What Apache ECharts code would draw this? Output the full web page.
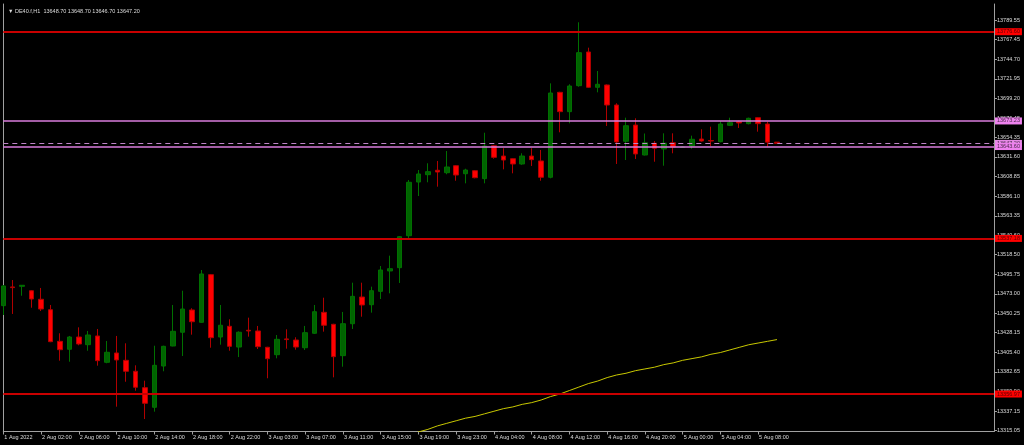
<!DOCTYPE html>
<html><head><meta charset="utf-8">
<script src="https://cdn.jsdelivr.net/npm/echarts@6/dist/echarts.min.js"></script>
<style>html,body{margin:0;padding:0;background:#000;}#c{width:1024px;height:445px;}</style>
</head><body><div id="c"></div>
<script>
const symbolName = 'DE40.f,H1';
const categories = [
 '1 Aug 2022','1 Aug 22:00','1 Aug 23:00','2 Aug 01:00','2 Aug 02:00','2 Aug 03:00','2 Aug 04:00','2 Aug 05:00',
 '2 Aug 06:00','2 Aug 07:00','2 Aug 08:00','2 Aug 09:00','2 Aug 10:00','2 Aug 11:00','2 Aug 12:00','2 Aug 13:00',
 '2 Aug 14:00','2 Aug 15:00','2 Aug 16:00','2 Aug 17:00','2 Aug 18:00','2 Aug 19:00','2 Aug 20:00','2 Aug 21:00',
 '2 Aug 22:00','2 Aug 23:00','3 Aug 01:00','3 Aug 02:00','3 Aug 03:00','3 Aug 04:00','3 Aug 05:00','3 Aug 06:00',
 '3 Aug 07:00','3 Aug 08:00','3 Aug 09:00','3 Aug 10:00','3 Aug 11:00','3 Aug 12:00','3 Aug 13:00','3 Aug 14:00',
 '3 Aug 15:00','3 Aug 16:00','3 Aug 17:00','3 Aug 18:00','3 Aug 19:00','3 Aug 20:00','3 Aug 21:00','3 Aug 22:00',
 '3 Aug 23:00','4 Aug 01:00','4 Aug 02:00','4 Aug 03:00','4 Aug 04:00','4 Aug 05:00','4 Aug 06:00','4 Aug 07:00',
 '4 Aug 08:00','4 Aug 09:00','4 Aug 10:00','4 Aug 11:00','4 Aug 12:00','4 Aug 13:00','4 Aug 14:00','4 Aug 15:00',
 '4 Aug 16:00','4 Aug 17:00','4 Aug 18:00','4 Aug 19:00','4 Aug 20:00','4 Aug 21:00','4 Aug 22:00','4 Aug 23:00',
 '5 Aug 00:00','5 Aug 01:00','5 Aug 02:00','5 Aug 03:00','5 Aug 04:00','5 Aug 05:00','5 Aug 06:00','5 Aug 07:00',
 '5 Aug 08:00','5 Aug 09:00','5 Aug 10:00'
];
const opens = [
 13459.3,13481.0,13481.7,13476.6,13466.7,13454.6,13418.0,13408.8,13423.0,13414.1,
 13424.2,13393.7,13404.5,13396.0,13383.3,13364.3,13341.6,13389.4,13412.6,13428.5,
 13454.3,13440.0,13495.2,13423.0,13435.4,13411.4,13430.8,13430.0,13411.1,13402.5,
 13420.8,13419.5,13410.6,13427.3,13451.6,13437.7,13401.4,13438.4,13469.3,13460.4,
 13475.9,13499.5,13503.3,13540.3,13602.5,13611.0,13616.1,13613.3,13621.4,13612.1,
 13615.6,13606.4,13644.6,13632.6,13629.5,13623.4,13632.6,13626.9,13608.0,13706.4,
 13684.0,13714.1,13753.1,13712.2,13714.9,13691.7,13649.7,13668.5,13633.8,13647.4,
 13640.8,13648.0,13642.6,13644.2,13652.3,13650.5,13649.2,13668.2,13672.4,13670.1,
 13677.0,13669.7,13648.7
];
const highs = [
 13483.2,13489.0,13483.2,13477.4,13479.8,13460.1,13427.3,13424.2,13434.2,13430.0,
 13432.3,13418.4,13424.2,13415.7,13390.2,13372.4,13412.9,13412.9,13460.1,13476.6,
 13456.3,13500.6,13496.0,13460.1,13443.5,13429.5,13445.4,13435.8,13411.6,13425.3,
 13431.9,13422.7,13435.8,13460.1,13468.5,13438.3,13452.0,13485.9,13485.9,13481.3,
 13505.2,13517.2,13540.0,13604.8,13616.4,13624.2,13626.9,13638.4,13622.0,13617.9,
 13616.4,13659.6,13645.4,13641.6,13630.0,13635.8,13641.6,13639.6,13716.8,13707.0,
 13715.7,13787.5,13758.1,13731.1,13715.5,13693.7,13677.0,13676.3,13658.7,13650.0,
 13658.9,13658.9,13643.8,13656.2,13663.6,13666.6,13672.8,13677.0,13673.5,13677.0,
 13677.5,13672.4,13648.7
];
const lows = [
 13448.5,13449.7,13470.8,13456.9,13453.1,13417.0,13395.6,13394.4,13413.4,13407.1,
 13389.8,13392.6,13342.3,13371.2,13360.8,13328.0,13336.5,13383.3,13412.2,13401.0,
 13425.7,13439.5,13410.6,13414.1,13407.1,13399.8,13423.4,13409.1,13375.2,13398.3,
 13409.5,13408.3,13408.0,13426.5,13429.2,13376.3,13388.6,13432.3,13446.5,13451.2,
 13467.0,13473.6,13485.6,13537.3,13586.3,13602.2,13597.1,13611.5,13604.0,13601.0,
 13606.8,13601.0,13629.5,13617.2,13612.6,13622.5,13621.1,13604.0,13606.8,13660.1,
 13670.5,13712.9,13711.4,13706.4,13667.4,13623.4,13628.0,13629.2,13633.3,13626.0,
 13621.4,13635.8,13642.0,13641.1,13649.2,13644.2,13648.5,13667.4,13665.1,13669.3,
 13660.8,13643.4,13646.7
];
const closes = [
 13482.1,13480.2,13482.9,13467.0,13455.4,13417.6,13408.3,13423.0,13414.9,13425.3,
 13395.6,13405.3,13396.4,13383.3,13364.8,13346.2,13390.2,13412.2,13429.6,13455.4,
 13440.7,13496.0,13422.2,13436.6,13412.2,13428.5,13430.0,13411.8,13397.9,13420.3,
 13420.0,13411.4,13428.0,13452.3,13436.6,13400.2,13438.4,13470.1,13460.1,13476.6,
 13500.6,13502.1,13539.2,13602.2,13611.8,13614.5,13614.1,13619.9,13610.6,13616.4,
 13607.5,13644.2,13631.1,13628.0,13623.4,13632.6,13628.4,13608.0,13705.6,13684.0,
 13713.7,13752.3,13712.2,13715.7,13691.7,13648.9,13667.7,13635.0,13648.0,13641.6,
 13647.4,13643.1,13643.1,13652.0,13650.0,13650.0,13669.7,13671.2,13670.9,13676.3,
 13670.1,13648.7,13647.2
];
const maStart = 43;
const maValues = [
 13310,13313,13316,13320,13323,13326,13329,13331,13334,13337,
 13340,13342,13345,13347,13350,13354,13357,13361,13365,13369,
 13372,13376,13379,13381,13384,13386,13388,13391,13393,13396,
 13398,13400,13403,13405,13408,13411,13414,13416,13418,13420
];
const priceTicks = [
 13315.05,13337.15,13359.90,13382.65,13405.40,13428.15,13450.25,13473.00,13495.75,13518.50,
 13540.60,13563.35,13586.10,13608.85,13631.60,13654.35,13676.45,13699.20,13721.95,13744.70,
 13767.45,13789.55
];
const redLevels = [13776.60, 13537.18, 13356.97];
const pinkLevels = [13673.23, 13643.60];
const bidLevel = 13647.20;

const chart = echarts.init(document.getElementById('c'), null, {renderer: 'canvas'});
const FONT = 'Liberation Sans';
const FS = 5.5;
const TXT = '#dcdcdc';
const AX = '#a0a0a0';
const PAD = 23;
const slots = categories.concat(new Array(PAD).fill(''));
const candleData = opens.map((o, i) => [o, closes[i], lows[i], highs[i]]);
const maData = slots.map((_, i) => (i >= maStart && i - maStart < maValues.length) ? maValues[i - maStart] : null);
const last = opens.length - 1;
const titleText = '\u25BC ' + symbolName + '  ' + [opens[last], highs[last], lows[last], closes[last]].map(v => v.toFixed(2)).join(' ');
const yMax = 13808.69, yMin = 13313.55;
const labelShow = (idx, val) => idx % 4 === 0 && val !== '';

const mlData = [];
mlData.push({yAxis: bidLevel, lineStyle: {color: '#c084c8', width: 1, type: [5, 4]},
  label: {backgroundColor: '#e68ae6', color: '#4a2a4a'}});
pinkLevels.forEach(v => mlData.push({yAxis: v, lineStyle: {color: '#da7ddc', width: 1.5, type: 'solid'},
  label: {backgroundColor: '#ee82ee', color: '#4a2a4a'}}));
redLevels.forEach(v => mlData.push({yAxis: v, lineStyle: {color: '#c80000', width: 2, type: 'solid'},
  label: {backgroundColor: '#ff0000', color: '#5a0000'}}));

chart.setOption({
  backgroundColor: '#000000',
  animation: false,
  textStyle: {fontFamily: FONT},
  title: {text: titleText, left: 3, top: 3, textStyle: {color: TXT, fontSize: FS, fontWeight: 'normal', fontFamily: FONT}},
  grid: {left: 3.3, right: 30, top: 4, bottom: 13.5, containLabel: false},
  xAxis: {
    type: 'category', data: slots, boundaryGap: false,
    axisLine: {show: true, lineStyle: {color: AX, width: 1}},
    axisTick: {show: true, interval: labelShow, length: 3, lineStyle: {color: AX}},
    axisLabel: {show: true, interval: labelShow, align: 'left', margin: 3, color: TXT, fontSize: FS, fontFamily: FONT, padding: [0, 0, 0, 1]},
    splitLine: {show: false}
  },
  yAxis: [{
    type: 'value', position: 'right', min: yMin, max: yMax, scale: true,
    axisLine: {show: true, lineStyle: {color: AX, width: 1}},
    axisTick: {show: true, length: 3, customValues: priceTicks, lineStyle: {color: AX}},
    axisLabel: {show: true, customValues: priceTicks, margin: 3, color: TXT, fontSize: FS, fontFamily: FONT,
      formatter: v => v.toFixed(2)},
    splitLine: {show: false}
  }, {
    type: 'value', position: 'left', min: yMin, max: yMax, scale: true,
    axisLine: {show: true, lineStyle: {color: AX, width: 1}},
    axisTick: {show: false}, axisLabel: {show: false}, splitLine: {show: false}
  }],
  series: [{
    type: 'candlestick', name: symbolName, data: candleData, barWidth: 5, clip: true,
    itemStyle: {color: '#006400', color0: '#ff0000', borderColor: '#007000', borderColor0: '#b00000', borderWidth: 1},
    markLine: {
      symbol: ['none', 'none'], silent: true, animation: false,
      label: {show: true, position: 'end', distance: 1, fontSize: FS, fontFamily: FONT, padding: [1, 2, 0, 2],
        formatter: p => Number(p.value).toFixed(2)},
      data: mlData
    },
    z: 3
  }, {
    type: 'line', name: 'MA', data: maData, showSymbol: false, symbol: 'none', clip: true,
    lineStyle: {color: '#c8c800', width: 1}, connectNulls: false, z: 2
  }]
});
</script></body></html>
